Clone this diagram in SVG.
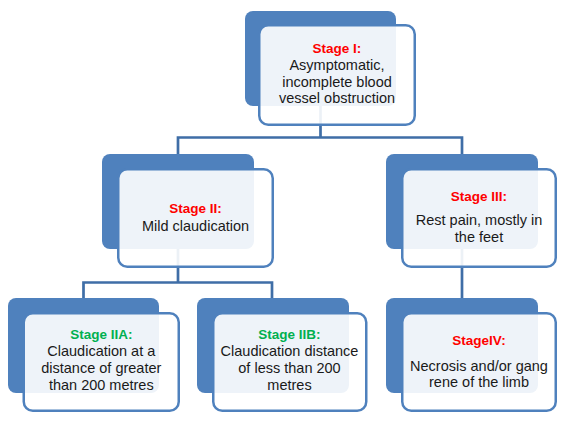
<svg xmlns="http://www.w3.org/2000/svg" width="580" height="423" viewBox="0 0 580 423">
<style>
.back{fill:#4F81BD}
.front{fill:#FFFFFF;fill-opacity:0.9;stroke:#4F81BD;stroke-width:2.5}
.conn{fill:none;stroke:#3F6EA7;stroke-width:2.7}
text{font-family:"Liberation Sans",Arial,sans-serif;font-size:14.5px;fill:#1A1A1A;text-anchor:middle}
.red{font-weight:bold;font-size:13.5px;fill:#FF0000}
.green{font-weight:bold;font-size:13.5px;fill:#00B050}
</style>
<rect width="580" height="423" fill="#FFFFFF"/>
<g id="connectors">
<path class="conn" d="M320.5,106 V137.5 M178,154 V137.5 H462 V154"/>
<path class="conn" d="M178,249 V282.5 M83.5,298 V282.5 H272 V298"/>
<path class="conn" d="M462,249 V298"/>
</g>
<g id="stage1">
<rect class="back" x="245" y="11" width="151" height="95" rx="8"/>
<rect class="front" x="259.25" y="25.25" width="155.5" height="99.5" rx="9"/>
<text x="337" y="52.5" class="red">Stage I:</text>
<text x="337" y="70">Asymptomatic,</text>
<text x="337" y="86.5">incomplete blood</text>
<text x="337" y="103">vessel obstruction</text>
</g>
<g id="stage2">
<rect class="back" x="102" y="154" width="152" height="95" rx="8"/>
<rect class="front" x="118.25" y="169.25" width="154.5" height="97.5" rx="9"/>
<text x="195.5" y="212.5" class="red">Stage II:</text>
<text x="195.5" y="231">Mild claudication</text>
</g>
<g id="stage3">
<rect class="back" x="386" y="154" width="152" height="95" rx="8"/>
<rect class="front" x="402.25" y="169.25" width="153.5" height="97.5" rx="9"/>
<text x="479" y="201" class="red">Stage III:</text>
<text x="479" y="225">Rest pain, mostly in</text>
<text x="479" y="241.5">the feet</text>
</g>
<g id="stage2a">
<rect class="back" x="8" y="298" width="151" height="95" rx="8"/>
<rect class="front" x="23.75" y="313.25" width="155" height="97.5" rx="9"/>
<text x="101.3" y="339" class="green">Stage IIA:</text>
<text x="101.3" y="356">Claudication at a</text>
<text x="101.3" y="372.5">distance of greater</text>
<text x="101.3" y="390">than 200 metres</text>
</g>
<g id="stage2b">
<rect class="back" x="197" y="298" width="152" height="95" rx="8"/>
<rect class="front" x="213.25" y="313.25" width="153" height="97.5" rx="9"/>
<text x="289.5" y="339" class="green">Stage IIB:</text>
<text x="289.5" y="356">Claudication distance</text>
<text x="289.5" y="373">of less than 200</text>
<text x="289.5" y="390">metres</text>
</g>
<g id="stage4">
<rect class="back" x="386" y="298" width="152" height="95" rx="8"/>
<rect class="front" x="402.25" y="313.25" width="153.5" height="97.5" rx="9"/>
<text x="479" y="344.5" class="red">StageIV:</text>
<text x="479" y="370.5">Necrosis and/or gang</text>
<text x="479" y="386.5">rene of the limb</text>
</g>
</svg>
